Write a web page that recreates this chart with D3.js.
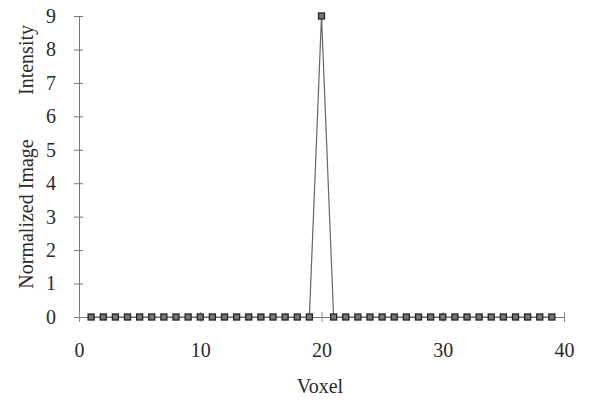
<!DOCTYPE html>
<html>
<head>
<meta charset="utf-8">
<script src="https://cdn.jsdelivr.net/npm/d3@7"></script>
<style>
  body { margin: 0; background: #fff; }
  text { font-family: "Liberation Serif", "DejaVu Serif", serif; fill: #2a2a2a; }
</style>
</head>
<body>
<div id="chart"></div>
<script>
// voxel index and normalized intensity (single spike at voxel 20)
const voxels = d3.range(1, 40);
const intensity = [0, 0, 0, 0, 0, 0, 0, 0, 0, 0,
                   0, 0, 0, 0, 0, 0, 0, 0, 0, 9,
                   0, 0, 0, 0, 0, 0, 0, 0, 0, 0,
                   0, 0, 0, 0, 0, 0, 0, 0, 0];
const xTicks = [0, 10, 20, 30, 40];
const yTicks = [0, 1, 2, 3, 4, 5, 6, 7, 8, 9];

const points = voxels.map((v, i) => ({ v: v, y: intensity[i] }));

const svg = d3.select("#chart")
    .append("svg")
        .attr("width", 590)
        .attr("height", 402);

const x = d3.scaleLinear().domain([0, 40]).range([79, 564]);
const y = d3.scaleLinear().domain([0, 9]).range([317, 16]);

// y axis
const yAxis = svg.append("g")
    .attr("transform", "translate(79,0)")
    .call(d3.axisLeft(y).tickValues(yTicks).tickSize(0).tickPadding(23));
yAxis.select(".domain").attr("stroke", "#777");
yAxis.selectAll("text").style("font-size", "20px");
yAxis.selectAll(".tick").append("line")
    .attr("x1", -5).attr("x2", 4)
    .attr("stroke", "#777");

// x axis
const xAxis = svg.append("g")
    .attr("transform", "translate(0,317)")
    .call(d3.axisBottom(x).tickValues(xTicks).tickSize(0).tickPadding(26));
xAxis.select(".domain").attr("stroke", "#777");
xAxis.selectAll("text").style("font-size", "20px");
xAxis.selectAll(".tick").append("line")
    .attr("y1", -5).attr("y2", 5)
    .attr("stroke", "#888");

// line
svg.append("path")
    .datum(points)
    .attr("fill", "none")
    .attr("stroke", "#666")
    .attr("stroke-width", 1.2)
    .attr("d", d3.line().x(d => x(d.v)).y(d => y(d.y)));

// square markers
svg.selectAll("rect.mark")
    .data(points)
    .enter()
    .append("rect")
        .attr("class", "mark")
        .attr("x", d => x(d.v) - 3)
        .attr("y", d => y(d.y) - 3)
        .attr("width", 6)
        .attr("height", 6)
        .attr("fill", "#777")
        .attr("stroke", "#222")
        .attr("stroke-width", 1.3);

// axis titles
svg.append("text")
    .attr("x", 320)
    .attr("y", 393)
    .attr("text-anchor", "middle")
    .style("font-size", "20px")
    .text("Voxel");
svg.append("text")
    .attr("transform", "translate(33,214) rotate(-90)")
    .attr("text-anchor", "middle")
    .style("font-size", "20px")
    .text("Normalized Image");
svg.append("text")
    .attr("transform", "translate(33,60) rotate(-90)")
    .attr("text-anchor", "middle")
    .style("font-size", "20px")
    .text("Intensity");
</script>
</body>
</html>
